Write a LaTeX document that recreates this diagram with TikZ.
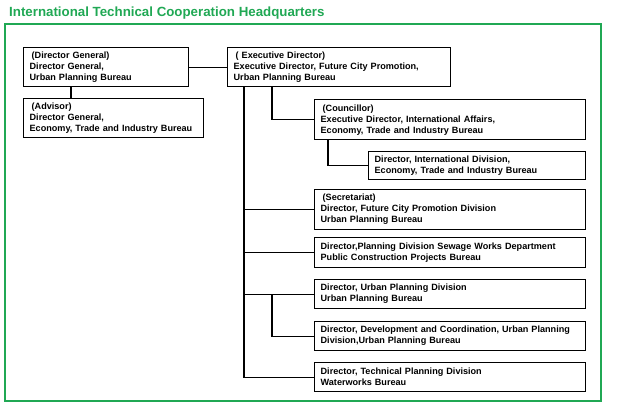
\documentclass[tikz,border=0pt]{standalone}
\usepackage{fontspec}
\setmainfont{Liberation Sans}

\definecolor{hqgreen}{RGB}{32,168,84}

\tikzset{
  orgbox/.style={draw, line width=1.3pt, anchor=north west, align=left,
    inner xsep=6pt, inner ysep=0pt, font=\fontsize{9.1}{11}\selectfont\bfseries},
  link/.style={line width=1.2pt}
}

\begin{document}
\begin{tikzpicture}[x=1pt, y=-1pt]

% Area of the picture
\useasboundingbox (0,0) rectangle (617,405);

% Title and frame
\node[anchor=west, inner sep=0pt, text=hqgreen, font=\fontsize{13.3}{16}\selectfont\bfseries] (title) at (9,13) {International Technical Cooperation Headquarters};
\draw[hqgreen, line width=2.4pt] (5,24) rectangle (601,401);

% Left column
\node[orgbox, text width=153pt, minimum height=39pt] (dg) at (23,47) {\hspace{2pt}(Director General)\\Director General,\\Urban Planning Bureau};
\node[orgbox, text width=168pt, minimum height=39pt] (adv) at (23,98) {\hspace{2pt}(Advisor)\\Director General,\\Economy, Trade and Industry Bureau};

% Executive director
\node[orgbox, text width=211pt, minimum height=39pt] (ed) at (227,47) {\hspace{2pt}( Executive Director)\\Executive Director, Future City Promotion,\\Urban Planning Bureau};

% Councillor branch
\node[orgbox, text width=259pt, minimum height=40pt] (cou) at (314,99) {\hspace{2pt}(Councillor)\\Executive Director, International Affairs,\\Economy, Trade and Industry Bureau};
\node[orgbox, text width=205pt, minimum height=28pt] (intl) at (368,151) {Director, International Division,\\Economy, Trade and Industry Bureau};

% Boxes on the trunk
\node[orgbox, text width=259pt, minimum height=40pt] (sec) at (314,189) {\hspace{2pt}(Secretariat)\\Director, Future City Promotion Division\\Urban Planning Bureau};
\node[orgbox, text width=259pt, minimum height=30pt] (sew) at (314,237) {Director,Planning Division Sewage Works Department\\Public Construction Projects Bureau};
\node[orgbox, text width=259pt, minimum height=29pt] (upd) at (314,279) {Director, Urban Planning Division\\Urban Planning Bureau};
\node[orgbox, text width=259pt, minimum height=29pt] (dev) at (314,321) {Director, Development and Coordination, Urban Planning\\Division,Urban Planning Bureau};
\node[orgbox, text width=259pt, minimum height=29pt] (tpd) at (314,362) {Director, Technical Planning Division\\Waterworks Bureau};

% Connectors
\draw[link] (dg.east) -- (ed.west);
\draw[link] ([xshift=48pt]dg.south west) -- ([xshift=48pt]dg.south west |- adv.north);
\draw[link] ([xshift=45pt]ed.south west) |- (cou.west);
\draw[link] ([xshift=14pt]cou.south west) |- (intl.west);

\coordinate (trunk) at ([xshift=17pt]ed.south west);
\draw[link] (trunk) |- (tpd.west);
\draw[link] (sec.west) -- (sec.west -| trunk);
\draw[link] (sew.west) -- (sew.west -| trunk);
\draw[link] (upd.west) -- (upd.west -| trunk);
\draw[link] ([xshift=-42pt]upd.west) |- (dev.west);

\end{tikzpicture}
\end{document}
